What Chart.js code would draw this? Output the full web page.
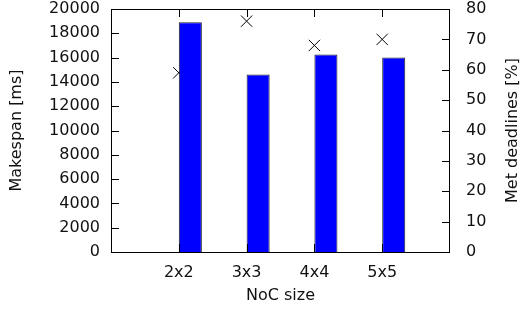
<!DOCTYPE html>
<html>
<head>
<meta charset="utf-8">
<script src="https://cdn.jsdelivr.net/npm/chart.js@4"></script>
<style>
  html, body { margin: 0; padding: 0; background: #fff; }
  #wrap { width: 529px; height: 320px; }
</style>
</head>
<body>
<div id="wrap"><canvas id="chart"></canvas></div>
<script>
// NoC sizes, padded with empty slots at both ends like the gnuplot x range
const categories = ["", "2x2", "3x3", "4x4", "5x5", ""];
const makespan = [null, 18900, 14600, 16250, 16000, null];      // ms
const metDeadlines = [null, 59, 76, 68, 70, null];             // %
const makespanTicks = [0, 2000, 4000, 6000, 8000, 10000, 12000, 14000, 16000, 18000, 20000];
const deadlineTicks = [0, 10, 20, 30, 40, 50, 60, 70, 80];
const rightTitle = "Met deadlines [%]";

const font = { family: "DejaVu Sans", size: 16 };
const textColor = "#111";

// gnuplot style: box round the plot and tick marks pointing inwards
const framePlugin = {
  id: "frame",
  afterDraw(chart) {
    const { ctx, chartArea: a, scales } = chart;
    const len = 8;
    ctx.save();
    ctx.strokeStyle = "#000";
    ctx.lineWidth = 1;
    ctx.strokeRect(a.left + 0.5, a.top + 0.5, a.right - a.left - 1, a.bottom - a.top);
    ctx.beginPath();
    scales.y.ticks.forEach(t => {
      const y = Math.round(scales.y.getPixelForValue(t.value)) + 0.5;
      ctx.moveTo(a.left, y); ctx.lineTo(a.left + len, y);
    });
    scales.y1.ticks.forEach(t => {
      const y = Math.round(scales.y1.getPixelForValue(t.value)) + 0.5;
      ctx.moveTo(a.right, y); ctx.lineTo(a.right - len, y);
    });
    categories.forEach((c, i) => {
      if (!c) return;
      const x = Math.round(scales.x.getPixelForValue(i)) + 0.5;
      ctx.moveTo(x, a.top); ctx.lineTo(x, a.top + len);
      ctx.moveTo(x, a.bottom); ctx.lineTo(x, a.bottom - len);
    });
    ctx.stroke();

    // right axis title reads bottom-to-top, like the left one
    ctx.translate(513, (a.top + a.bottom) / 2);
    ctx.rotate(-Math.PI / 2);
    ctx.fillStyle = textColor;
    ctx.font = font.size + "px '" + font.family + "'";
    ctx.textAlign = "center";
    ctx.textBaseline = "middle";
    ctx.fillText(rightTitle, 0, 0);
    ctx.restore();
  }
};

const noPad = s => { s.paddingTop = 0; s.paddingBottom = 0; s.paddingLeft = 0; s.paddingRight = 0; };

new Chart(document.getElementById("chart"), {
  type: "bar",
  data: {
    labels: categories,
    datasets: [
      {
        // empty slot so the real bar sits right of the tick
        label: "",
        data: categories.map(() => null),
        backgroundColor: "rgba(0,0,0,0)"
      },
      {
        label: "Makespan",
        data: makespan,
        yAxisID: "y",
        backgroundColor: "#0000ff",
        borderColor: "#222",
        borderWidth: 1,
        borderSkipped: "bottom"
      },
      {
        type: "line",
        label: "Met deadlines",
        data: metDeadlines,
        yAxisID: "y1",
        showLine: false,
        pointStyle: "crossRot",
        pointRadius: 8,
        pointHoverRadius: 8,
        pointBorderColor: "#000",
        pointBorderWidth: 1,
        borderColor: "#000"
      }
    ]
  },
  options: {
    responsive: true,
    maintainAspectRatio: false,
    animation: false,
    categoryPercentage: 0.68,
    barPercentage: 1,
    layout: { padding: { top: 7, left: 0, right: 0, bottom: 0 } },
    plugins: { legend: { display: false }, tooltip: { enabled: false } },
    scales: {
      x: {
        offset: false,
        grid: { display: false, drawTicks: false },
        border: { display: false },
        ticks: { color: textColor, font, padding: 11, maxRotation: 0, autoSkip: false },
        title: { display: true, text: "NoC size", color: textColor, font, padding: { top: 0, bottom: 15 } },
        afterFit(s) { s.height = 68; noPad(s); }
      },
      y: {
        position: "left",
        min: 0,
        max: 20000,
        afterBuildTicks(s) { s.ticks = makespanTicks.map(v => ({ value: v })); },
        grid: { display: false, drawTicks: false },
        border: { display: false },
        ticks: { color: textColor, font, padding: 11, callback: v => String(v) },
        title: { display: true, text: "Makespan [ms]", color: textColor, font, padding: { top: 7, bottom: 0 } },
        afterFit(s) { s.width = 111; noPad(s); }
      },
      y1: {
        position: "right",
        min: 0,
        max: 80,
        afterBuildTicks(s) { s.ticks = deadlineTicks.map(v => ({ value: v })); },
        grid: { display: false, drawTicks: false },
        border: { display: false },
        ticks: { color: textColor, font, padding: 16, callback: v => String(v) },
        title: { display: false },
        afterFit(s) { s.width = 79; noPad(s); }
      }
    }
  },
  plugins: [framePlugin]
});
</script>
</body>
</html>
